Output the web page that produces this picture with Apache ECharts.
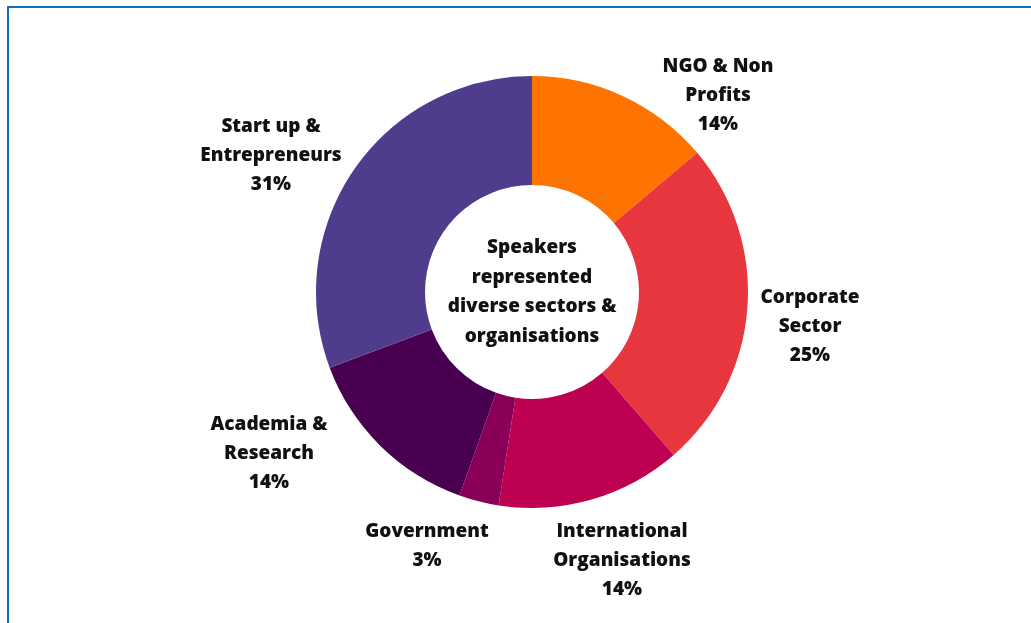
<!DOCTYPE html>
<html>
<head>
<meta charset="utf-8">
<style>
  html, body { margin: 0; padding: 0; background: #ffffff; }
  #chart { width: 1031px; height: 623px; }
</style>
<script src="https://cdn.jsdelivr.net/npm/echarts@6/dist/echarts.min.js"></script>
</head>
<body>
<div id="chart"></div>
<script>
// ---- data ----
const categories = [
  'NGO & Non\nProfits',
  'Corporate\nSector',
  'International\nOrganisations',
  'Government',
  'Academia &\nResearch',
  'Start up &\nEntrepreneurs'
];
const percentages = [14, 25, 14, 3, 14, 31];
const centerLines = ['Speakers', 'represented', 'diverse sectors &', 'organisations'];

// ---- styles / layout ----
const colors = ['#FF7300', '#E8363E', '#BE0050', '#8A0058', '#4A0050', '#4F3C8D'];
const FONT = 'Open Sans';
const cx = 532, cy = 292;
// label block centres (layout config)
const labelAnchors = [
  [718, 96], [810, 327], [622, 561], [427, 546], [269, 454], [271, 156]
];

const chart = echarts.init(document.getElementById('chart'), null, { renderer: 'canvas' });

const option = {
  backgroundColor: '#ffffff',
  animation: false,
  series: [{
    type: 'pie',
    center: [cx, cy],
    radius: [107, 216],
    startAngle: 90,
    clockwise: true,
    avoidLabelOverlap: false,
    itemStyle: { borderWidth: 0 },
    label: {
      show: true,
      position: 'outside',
      formatter: p => p.name + '\n' + p.value + '%',
      color: '#111111',
      fontFamily: FONT,
      fontWeight: 800,
      fontSize: 19,
      lineHeight: 29,
      align: 'center'
    },
    labelLine: { show: false },
    labelLayout: p => ({
      x: labelAnchors[p.dataIndex][0],
      y: labelAnchors[p.dataIndex][1],
      align: 'center',
      verticalAlign: 'middle'
    }),
    emphasis: { disabled: true },
    data: categories.map((c, i) => ({
      name: c,
      value: percentages[i],
      itemStyle: { color: colors[i] }
    }))
  }],
  graphic: [
    {
      type: 'text',
      x: cx, y: cy,
      style: {
        text: centerLines.join('\n'),
        fill: '#111111',
        font: '800 19px "' + FONT + '"',
        lineHeight: 29.5,
        align: 'center',
        verticalAlign: 'middle'
      }
    },
    {
      type: 'line',
      shape: { x1: 7, y1: 7, x2: 1031, y2: 7 },
      style: { stroke: '#0E70BF', lineWidth: 2 }
    },
    {
      type: 'line',
      shape: { x1: 8, y1: 6, x2: 8, y2: 623 },
      style: { stroke: '#0E70BF', lineWidth: 2 }
    }
  ]
};

chart.setOption(option);
</script>
</body>
</html>
